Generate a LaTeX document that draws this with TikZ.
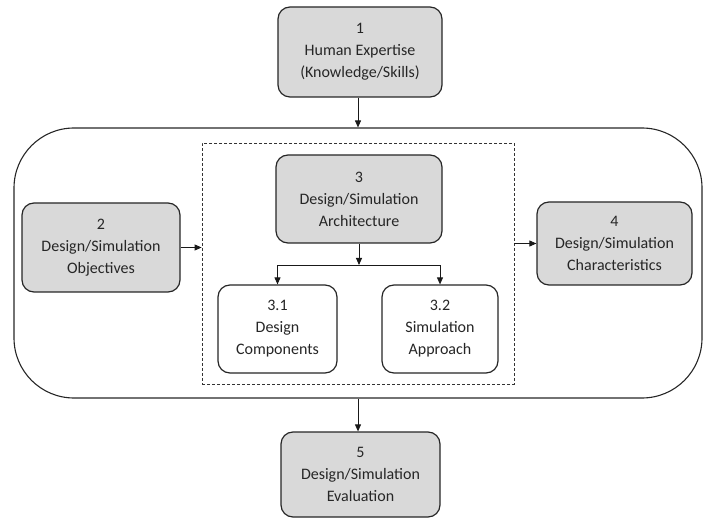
\documentclass[tikz,border=0pt]{standalone}
\usepackage{fontspec}
\setmainfont{Carlito}
\usetikzlibrary{arrows.meta}
\definecolor{boxgrey}{HTML}{D9D9D9}
\tikzset{>/.tip={Triangle[length=7pt,width=6pt]},
  greybox/.style={draw=black!85, fill=boxgrey, rounded corners=12pt, line width=1.2pt,
    align=center, inner sep=0pt, text=black!85, font=\fontsize{16}{22}\selectfont},
  whitebox/.style={greybox, fill=white},
  link/.style={->, line width=0.9pt, draw=black!90}}

\begin{document}
\begin{tikzpicture}[x=1pt, y=-1pt]
\useasboundingbox (0,0) rectangle (709,518);
\node[draw=black!85, line width=1.1pt, rounded corners=60pt, minimum width=688pt, minimum height=270pt, inner sep=0pt] (frame) at (358,263) {};
\node[draw=black!80, line width=0.8pt, dash pattern=on 3pt off 2pt, minimum width=312pt, minimum height=241pt, inner sep=0pt] (inner) at (358,263.5) {};
\node[greybox, minimum width=164pt, minimum height=90pt] (expert) at (360,52)    {1\\Human Expertise\\(Knowledge/Skills)};
\node[greybox, minimum width=158pt, minimum height=89pt] (obj)    at (101,247.5) {2\\Design/Simulation\\Objectives};
\node[greybox, minimum width=166pt, minimum height=88pt] (arch)   at (359,199)   {3\\Design/Simulation\\Architecture};
\node[whitebox, minimum width=119pt, minimum height=88pt] (comp)  at (277.5,329) {3.1\\Design\\Components};
\node[whitebox, minimum width=116pt, minimum height=88pt] (appr)  at (440,329)   {3.2\\Simulation\\Approach};
\node[greybox, minimum width=155pt, minimum height=83pt] (chars)  at (614.5,243.5) {4\\Design/Simulation\\Characteristics};
\node[greybox, minimum width=159pt, minimum height=85pt] (eval)   at (360.5,474.5) {5\\Design/Simulation\\Evaluation};
\coordinate (split) at (359,265);
\draw[link] (expert.south -| frame.north) -- (frame.north);
\draw[link] (frame.south) -- (frame.south |- eval.north);
\draw[link] (obj.east) -- (obj.east -| inner.west);
\draw[link] (inner.east |- chars.west) -- (chars.west);
\draw[link] (arch.south) -- (split);
\draw[link] (split) -| (comp.north);
\draw[link] (split) -| (appr.north);
\end{tikzpicture}
\end{document}
